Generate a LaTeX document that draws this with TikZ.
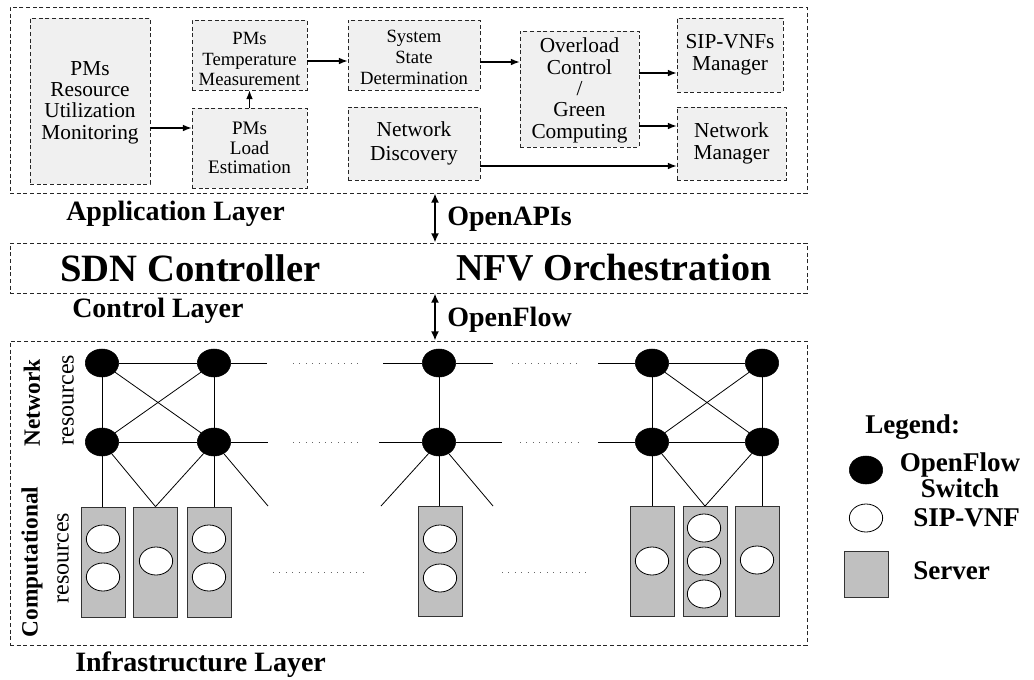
\documentclass[tikz,border=0pt]{standalone}
\usepackage{fontspec}
\setmainfont{Liberation Serif}
\usetikzlibrary{shapes.geometric,fit,arrows.meta}
\definecolor{boxgray}{HTML}{F0F0F0}
\definecolor{srvgray}{HTML}{C0C0C0}
\newcommand{\fs}[2]{\fontsize{#1}{#2}\selectfont}

\begin{document}
\begin{tikzpicture}[x=0.75pt,y=-0.75pt,
  dashline/.style={draw=black!85, line width=0.6pt, dash pattern=on 3pt off 2pt},
  fbox/.style={dashline, fill=boxgray, inner sep=0pt},
  btext/.style={inner sep=0pt, align=center},
  layer/.style={dashline, inner sep=0pt},
  arr/.style={line width=0.9pt, -{Latex[length=6.5pt,width=5pt]}},
  biarr/.style={line width=1.5pt, {Latex[length=7pt,width=6pt]}-{Latex[length=7pt,width=6pt]}},
  lbl/.style={font=\bfseries\fs{21}{24}, inner sep=0pt},
  sw/.style={ellipse, fill=black, draw=black, minimum width=25pt, minimum height=21pt, inner sep=0pt},
  vnf/.style={ellipse, fill=white, draw=black, line width=0.6pt, minimum width=25pt, minimum height=21pt, inner sep=0pt},
  srv/.style={rectangle, fill=srvgray, draw=black!80, line width=0.6pt, minimum width=33pt, minimum height=82.5pt, inner sep=0pt},
  link/.style={line width=0.6pt},
  dots/.style={line width=0.6pt, draw=black!60, dash pattern=on 0.6pt off 4.2pt},
  leg/.style={font=\bfseries\fs{20.3}{19.5}, inner sep=0pt, align=center}]
\useasboundingbox (0,0) rectangle (1034,679);

% ---------------- Application layer ----------------
\node[layer, fit={(10,7) (807,193)}] (app) {};
\node[fbox, fit={(30,18) (150,184)}] (mon) {};
\node[fbox, fit={(192,20) (307,90)}] (temp) {};
\node[fbox, fit={(192,108) (307,188)}] (load) {};
\node[fbox, fit={(348,20) (480,90)}] (sys) {};
\node[fbox, fit={(348,107) (480,180)}] (disc) {};
\node[fbox, fit={(520,31) (639,147)}] (over) {};
\node[fbox, fit={(677,18) (783,92)}] (sipm) {};
\node[fbox, fit={(677,107) (786,180)}] (netm) {};

\node[btext, font=\fs{16}{16}] (mont) at ([yshift=-1pt]mon.center) {PMs\\Resource\\Utilization\\Monitoring};
\node[btext, font=\fs{14}{15.7}] (tempt) at ([yshift=-3pt]temp.center) {PMs\\Temperature\\Measurement};
\node[btext, font=\fs{14.3}{14.6}] (loadt) at (load.center) {PMs\\Load\\Estimation};
\node[btext, font=\fs{14}{15.7}] (syst) at ([yshift=-2pt]sys.center) {System\\State\\Determination};
\node[btext, font=\fs{16}{18}] (disct) at (disc.center) {Network\\Discovery};
\node[btext, font=\fs{16}{16}] (overt) at ([yshift=-1pt]over.center) {Overload\\Control\\/\\Green\\Computing};
\node[btext, font=\fs{16}{16.3}] (sipmt) at (sipm.center) {SIP-VNFs\\Manager};
\node[btext, font=\fs{16}{16.3}] (netmt) at (netm.center) {Network\\Manager};

\coordinate (ya) at (0,128);
\coordinate (yb) at (0,61);
\coordinate (yc) at (0,62);
\coordinate (yd) at (0,73);
\coordinate (ye) at (0,126);
\coordinate (yf) at (0,166);
\draw[arr] (mon.east |- ya) -- (load.west |- ya);
\draw[arr] (load.north) -- (temp.south);
\draw[arr] (temp.east |- yb) -- (sys.west |- yb);
\draw[arr] (sys.east |- yc) -- (over.west |- yc);
\draw[arr] (over.east |- yd) -- (sipm.west |- yd);
\draw[arr] (over.east |- ye) -- (netm.west |- ye);
\draw[arr] (disc.east |- yf) -- (netm.west |- yf);

\node[lbl, anchor=west] (applbl) at (66,214) {Application Layer};

% ---------------- Control layer ----------------
\node[layer, fit={(10,243) (807,293)}] (sdn) {};
\node[font=\bfseries\fs{29}{30}, inner sep=0pt, anchor=west] (sdnc) at (60,268) {SDN Controller};
\node[font=\bfseries\fs{28.5}{30}, inner sep=0pt, anchor=west] (nfvo) at (456,268) {NFV Orchestration};
\node[lbl, anchor=west] (ctllbl) at (72,311) {Control Layer};

\coordinate (ax) at (435,0);
\draw[biarr] (app.south -| ax) -- (sdn.north -| ax);
\node[lbl, anchor=west] (oapi) at (447,219) {OpenAPIs};

% ---------------- Infrastructure layer ----------------
\node[layer, fit={(10,341) (807,645)}] (infra) {};
\draw[biarr] (sdn.south -| ax) -- (infra.north -| ax);
\node[lbl, anchor=west] (oflow) at (447,320) {OpenFlow};
\node[lbl, anchor=west] (inflbl) at (75,665) {Infrastructure Layer};

% side labels
\node[font=\bfseries\fs{17.5}{18}, rotate=90, inner sep=0pt] (netres) at (32,403) {Network};
\node[font=\fs{18}{18}, rotate=90, inner sep=0pt] (netres2) at (68,400) {resources};
\node[font=\bfseries\fs{17.5}{18}, rotate=90, inner sep=0pt] (cmpres) at (32,562) {Computational};
\node[font=\fs{18}{18}, rotate=90, inner sep=0pt] (cmpres2) at (63,558) {resources};

% switches
\node[sw] (s1) at (102,363) {};
\node[sw] (s2) at (214,363) {};
\node[sw] (s3) at (102,442) {};
\node[sw] (s4) at (214,442) {};
\node[sw] (m1) at (439,363) {};
\node[sw] (m2) at (439,442) {};
\node[sw] (r1) at (652,363) {};
\node[sw] (r2) at (762,363) {};
\node[sw] (r3) at (652,442) {};
\node[sw] (r4) at (762,442) {};

% servers
\node[srv] (sv1) at (103,562) {};
\node[srv] (sv2) at (155.5,562) {};
\node[srv] (sv3) at (209,562) {};
\node[srv] (sv4) at (440,561) {};
\node[srv] (sv5) at (652,561.5) {};
\node[srv] (sv6) at (705,561.5) {};
\node[srv] (sv7) at (757,561.5) {};

% SIP-VNF instances
\node[vnf] (v1) at (103,539) {};
\node[vnf] (v2) at (103,577) {};
\node[vnf] (v3) at (156,561) {};
\node[vnf] (v4) at (209,539) {};
\node[vnf] (v5) at (209,577) {};
\node[vnf] (v6) at (440,539) {};
\node[vnf] (v7) at (440,578) {};
\node[vnf] (v8) at (652,561) {};
\node[vnf] (v9) at (704,528) {};
\node[vnf] (v10) at (704,561) {};
\node[vnf] (v11) at (704,594) {};
\node[vnf] (v12) at (757,560) {};

% open ends of links
\coordinate (e1) at (267,363);
\coordinate (e2) at (383,363);
\coordinate (e3) at (493,363);
\coordinate (e4) at (598,363);
\coordinate (e5) at (268,442);
\coordinate (e6) at (379,442);
\coordinate (e7) at (502,442);
\coordinate (e8) at (598,442);
\coordinate (d1) at (268,506);
\coordinate (d2) at (381,506);
\coordinate (d3) at (493,506);

% links: left group
\draw[link] (s1) -- (s2) -- (e1);
\draw[link] (s3) -- (s4) -- (e5);
\draw[link] (s1) -- (s3);
\draw[link] (s2) -- (s4);
\draw[link] (s1) -- (s4);
\draw[link] (s2) -- (s3);
\draw[link] (s3) -- (s3 |- sv1.north);
\draw[link] (s3) -- (sv2.north);
\draw[link] (s4) -- (sv2.north);
\draw[link] (s4) -- (s4 |- sv3.north);
\draw[link] (s4) -- (d1);
% links: middle group
\draw[link] (e2) -- (m1) -- (e3);
\draw[link] (e6) -- (m2) -- (e7);
\draw[link] (m1) -- (m2);
\draw[link] (m2) -- (d2);
\draw[link] (m2) -- (d3);
\draw[link] (m2) -- (m2 |- sv4.north);
% links: right group
\draw[link] (e4) -- (r1) -- (r2);
\draw[link] (e8) -- (r3) -- (r4);
\draw[link] (r1) -- (r3);
\draw[link] (r2) -- (r4);
\draw[link] (r1) -- (r4);
\draw[link] (r2) -- (r3);
\draw[link] (r3) -- (sv5.north);
\draw[link] (r3) -- (sv6.north);
\draw[link] (r4) -- (sv6.north);
\draw[link] (r4) -- (r4 |- sv7.north);

% ellipsis dots
\draw[dots] (293,363) -- (360,363);
\draw[dots] (512,363) -- (578,363);
\draw[dots] (293,442) -- (360,442);
\draw[dots] (520,442) -- (578,442);
\draw[dots] (273,572) -- (363,572);
\draw[dots] (502,572) -- (590,572);

% ---------------- Legend ----------------
\node[leg, anchor=west] (legt) at (865,427) {Legend:};
\node[sw] (lsw) at (866,470) {};
\node[leg] (lswt) at (960,475) {OpenFlow\\Switch};
\node[vnf] (lvnf) at (866,518) {};
\node[leg, anchor=west] (lvnft) at (913,518) {SIP-VNF};
\node[srv, minimum width=33pt, minimum height=34.5pt] (lsrv) at (866,574) {};
\node[leg, anchor=west] (lsrvt) at (913,571) {Server};
\end{tikzpicture}
\end{document}
